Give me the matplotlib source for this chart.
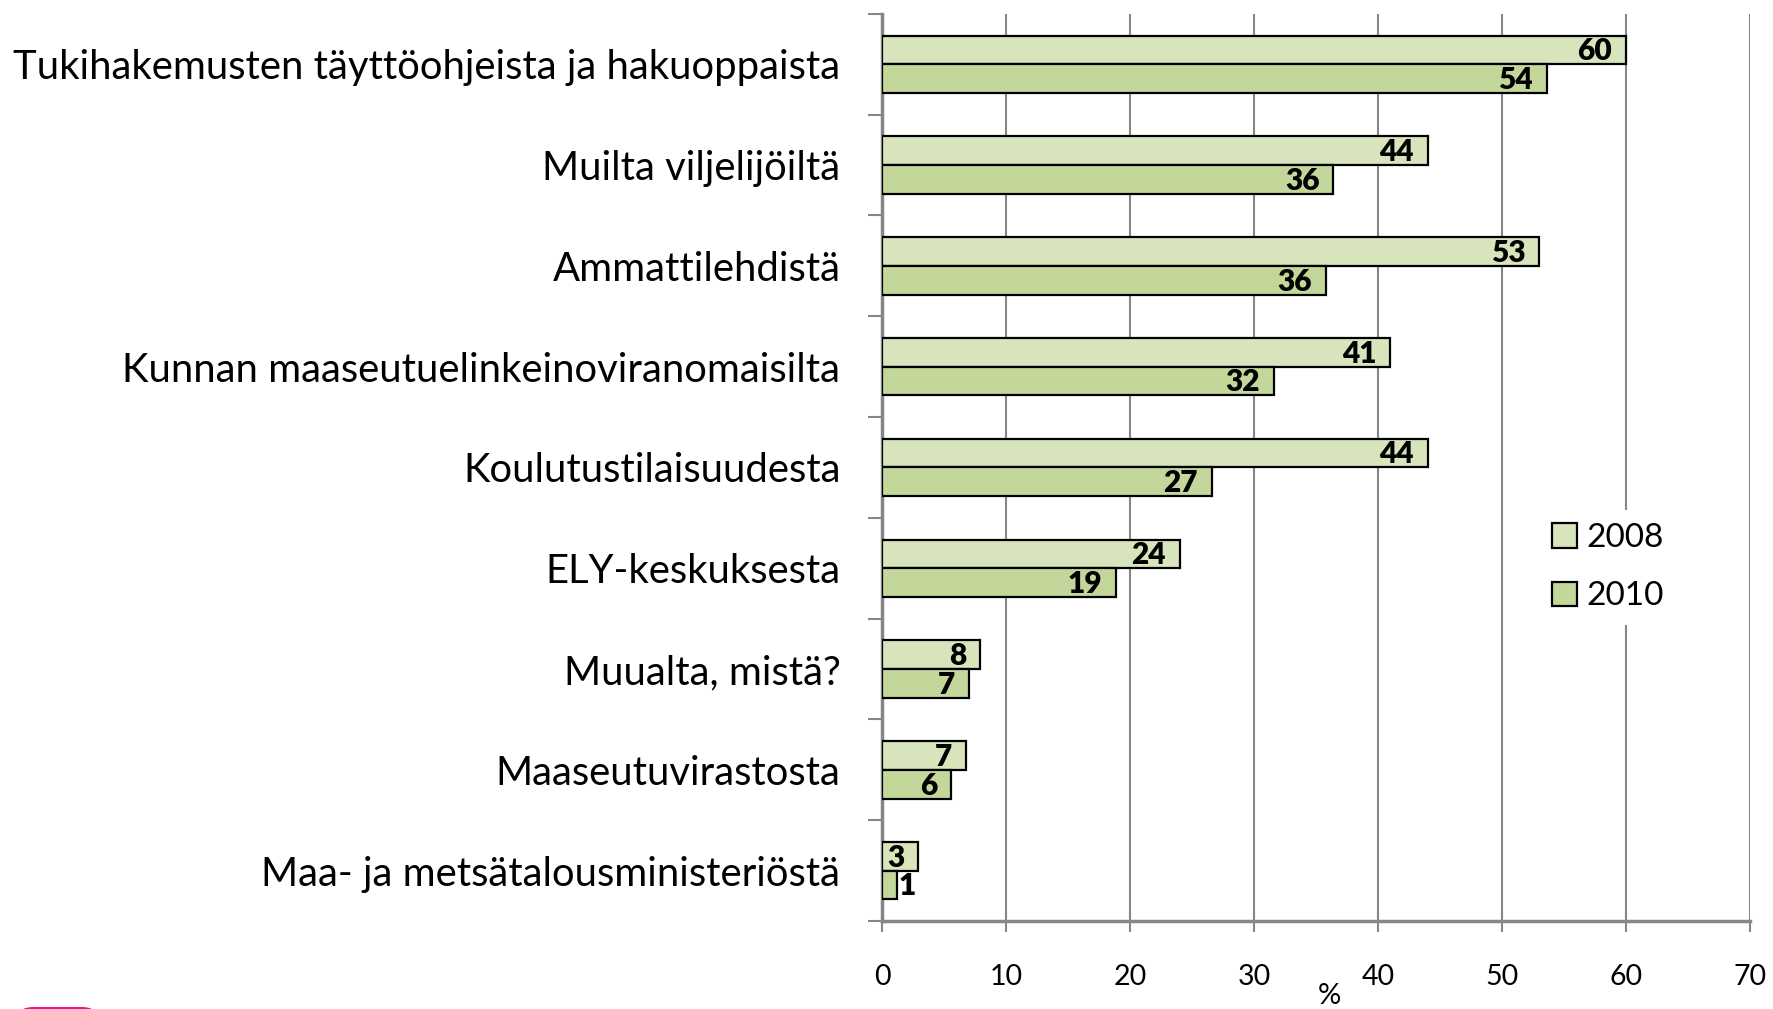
import matplotlib
matplotlib.use("Agg")
import matplotlib.pyplot as plt
from matplotlib.patches import FancyBboxPatch
from matplotlib.ticker import FixedLocator
import numpy as np

categories = [
    "Tukihakemusten täyttöohjeista ja hakuoppaista",
    "Muilta viljelijöiltä",
    "Ammattilehdistä",
    "Kunnan maaseutuelinkeinoviranomaisilta",
    "Koulutustilaisuudesta",
    "ELY-keskuksesta",
    "Muualta, mistä?",
    "Maaseutuvirastosta",
    "Maa- ja metsätalousministeriöstä",
]
values_2008 = [60, 44, 53, 41, 44, 24, 7.9, 6.8, 2.9]
values_2010 = [53.6, 36.4, 35.8, 31.6, 26.6, 18.9, 7.0, 5.6, 1.2]
series_names = ["2008", "2010"]
x_ticks = [0, 10, 20, 30, 40, 50, 60, 70]

plt.rcParams['font.family'] = ['Lato', 'DejaVu Sans']

fig = plt.figure(figsize=(17.73, 10.09), dpi=100)
ax = fig.add_axes([0.4975, 0.0872, 0.4895, 0.8990])

c2008 = "#D8E4BC"
c2010 = "#C4D79B"
h = 0.285
y = np.arange(len(categories))
b1 = ax.barh(y - h / 2, values_2008, height=h, color=c2008, edgecolor="black",
             linewidth=1.6, label=series_names[0], zorder=3)
b2 = ax.barh(y + h / 2, values_2010, height=h, color=c2010, edgecolor="black",
             linewidth=1.6, label=series_names[1], zorder=3)

for bars, vals in ((b1, values_2008), (b2, values_2010)):
    for rect, v in zip(bars, vals):
        yc = rect.get_y() + rect.get_height() / 2
        txt = f"{v:.0f}"
        if v < 2:
            ax.annotate(txt, (v, yc), xytext=(1, -1), textcoords="offset points",
                        ha="left", va="center", fontsize=21.5, fontweight="heavy", zorder=4)
        else:
            ax.annotate(txt, (v, yc), xytext=(-10, -1), textcoords="offset points",
                        ha="right", va="center", fontsize=21.5, fontweight="heavy", zorder=4)

ax.set_xlim(0, 70)
ax.set_ylim(len(categories) - 0.5, -0.5)
ax.xaxis.set_major_locator(FixedLocator(x_ticks))
ax.set_xticklabels([str(t) for t in x_ticks], fontsize=20.5)
ax.tick_params(axis="x", which="major", direction="out", length=8, width=1.5,
               color="#868686", pad=23)
ax.grid(axis="x", color="#868686", linewidth=1.5, zorder=0)
ax.set_axisbelow(True)

ax.set_yticks(y)
ax.set_yticklabels(categories, fontsize=28.8)
ax.tick_params(axis="y", which="major", length=0, pad=30)
ax.yaxis.set_minor_locator(FixedLocator(np.arange(-0.5, len(categories), 1.0)))
ax.tick_params(axis="y", which="minor", direction="out", length=10, width=1.5,
               color="#868686")

for s in ("top", "right"):
    ax.spines[s].set_visible(False)
ax.spines["left"].set_color("#868686")
ax.spines["left"].set_linewidth(2.5)
ax.spines["bottom"].set_color("#868686")
ax.spines["bottom"].set_linewidth(2.5)

ax.set_xlabel("%", fontsize=21)
ax.xaxis.set_label_coords(0.515, -0.068)

leg = ax.legend(loc="center left", bbox_to_anchor=(0.737, 0.39), frameon=True,
                fontsize=24, handlelength=0.75, handleheight=0.75, handletextpad=0.3,
                labelspacing=0.85, borderpad=0.4)
leg.get_frame().set_edgecolor("none")
leg.get_frame().set_facecolor("white")
leg.get_frame().set_alpha(1)
leg.set_zorder(5)

logo = FancyBboxPatch((0.011, -0.02), 0.043, 0.022, boxstyle="round,pad=0,rounding_size=0.008",
                      transform=fig.transFigure, facecolor="#F0148C", edgecolor="none")
fig.patches.append(logo)

fig.savefig("out.png", dpi=100)
